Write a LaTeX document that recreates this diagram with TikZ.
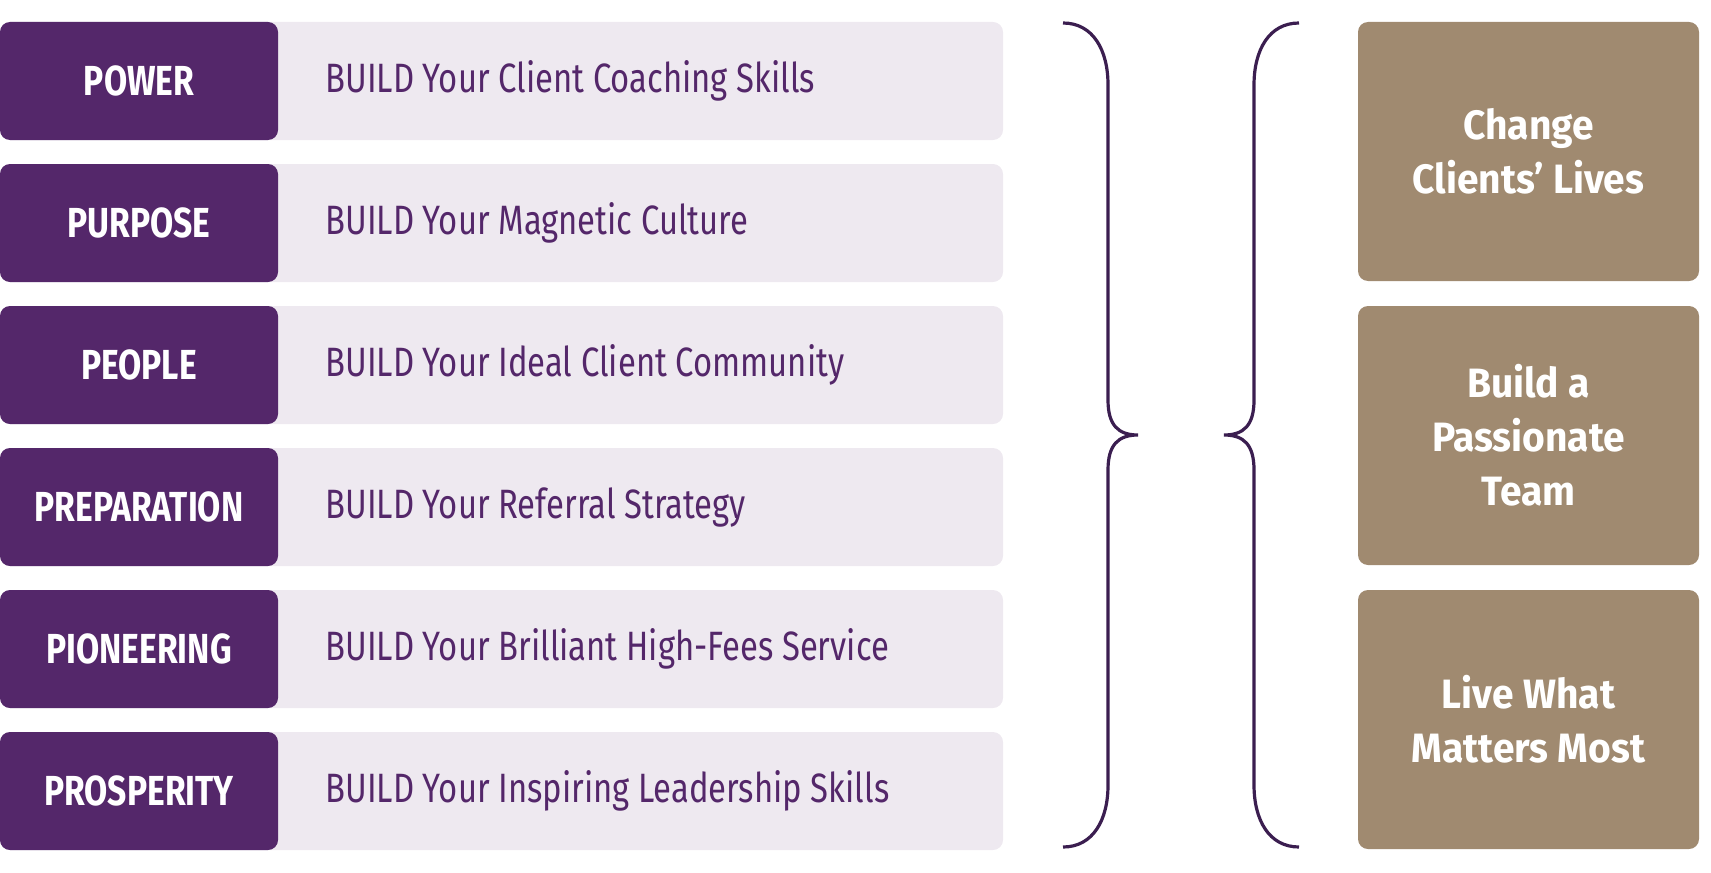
\documentclass[tikz,border=0pt]{standalone}
\usepackage{fontspec}
\setmainfont{Fira Sans}[FakeStretch=0.80]
\newfontfamily\tanfont{Fira Sans}[FakeStretch=0.95]
\definecolor{pp}{HTML}{54276A}
\definecolor{lt}{HTML}{EEE9F0}
\definecolor{tanc}{HTML}{A08A70}
\definecolor{brc}{HTML}{3B1E50}
\tikzset{
  lightbox/.style={fill=lt, rounded corners=5pt, minimum width=501.5pt, minimum height=59pt, inner sep=0pt},
  labelbox/.style={fill=pp, rounded corners=5pt, minimum width=139pt, minimum height=59pt, inner sep=0pt,
    text=white, font=\fontsize{21}{24}\selectfont\bfseries},
  desc/.style={anchor=west, inner sep=0pt, text=pp, font=\fontsize{20.5}{24}\selectfont},
  tanbox/.style={fill=tanc, rounded corners=5pt, minimum width=170.5pt, minimum height=129.5pt, inner sep=0pt,
    text=white, align=center, font=\tanfont\fontsize{20.5}{27}\selectfont\bfseries},
  bracestyle/.style={draw=brc, line width=1.6pt}
}
\begin{document}
\begin{tikzpicture}[x=0.5pt,y=-0.5pt]
\useasboundingbox (0,0) rectangle (1711,872);
\foreach \i/\lab/\txt in {0/POWER/BUILD Your Client Coaching Skills,
  1/PURPOSE/BUILD Your Magnetic Culture,
  2/PEOPLE/BUILD Your Ideal Client Community,
  3/PREPARATION/BUILD Your Referral Strategy,
  4/PIONEERING/BUILD Your Brilliant High-Fees Service,
  5/PROSPERITY/BUILD Your Inspiring Leadership Skills}{
  \pgfmathsetmacro{\cy}{81+142*\i}
  \node[lightbox] (row\i) at (501.5,\cy) {};
  \node[labelbox] (lab\i) at (139,\cy) {\lab};
  \node[desc] (txt\i) at (325,\cy) {\txt};
}
% braces
\coordinate (b1top) at (1063,23);
\coordinate (b1tip) at (1138,435);
\coordinate (b1bot) at (1063,847);
\draw[bracestyle] (b1top) .. controls (1093,23) and (1108,50) .. (1108,85)
  -- (1108,400) .. controls (1108,425) and (1118,435) .. (b1tip)
  .. controls (1118,435) and (1108,445) .. (1108,470)
  -- (1108,785) .. controls (1108,820) and (1093,847) .. (b1bot);
\coordinate (b2top) at (1299,23);
\coordinate (b2tip) at (1224,435);
\coordinate (b2bot) at (1299,847);
\draw[bracestyle] (b2top) .. controls (1269,23) and (1254,50) .. (1254,85)
  -- (1254,400) .. controls (1254,425) and (1244,435) .. (b2tip)
  .. controls (1244,435) and (1254,445) .. (1254,470)
  -- (1254,785) .. controls (1254,820) and (1269,847) .. (b2bot);
% tan boxes
\node[tanbox] (g1) at (1528.5,151.5) {Change\\Clients’ Lives};
\node[tanbox] (g2) at (1528.5,435.5) {Build a\\Passionate\\Team};
\node[tanbox] (g3) at (1528.5,719.5) {Live What\\Matters Most};
\end{tikzpicture}
\end{document}
